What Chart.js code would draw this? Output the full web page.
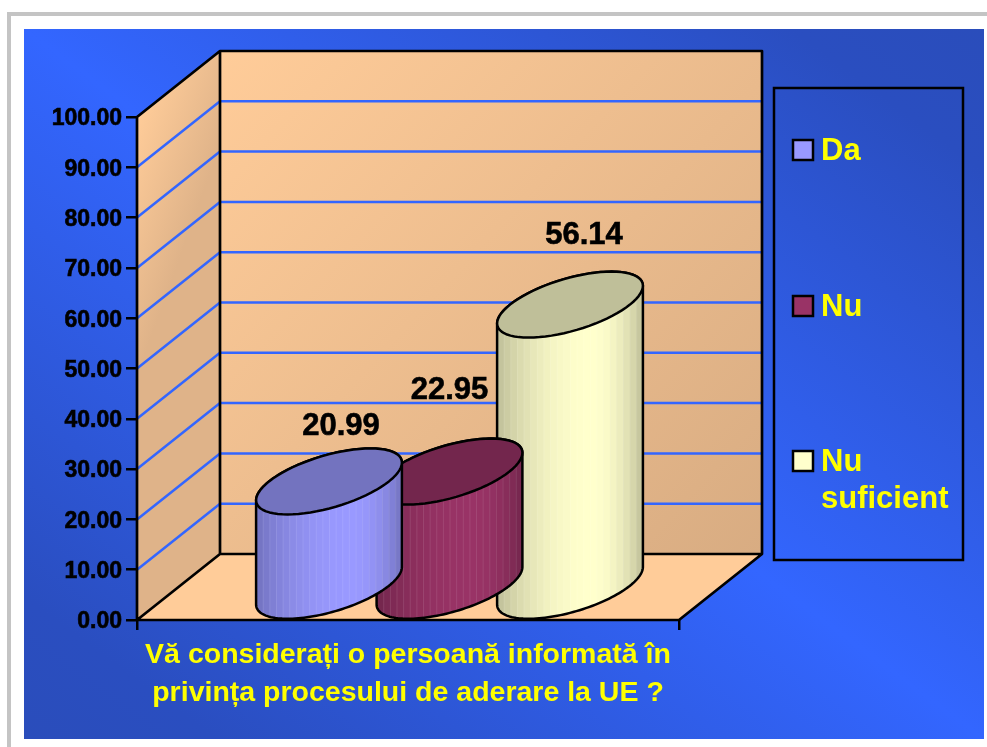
<!DOCTYPE html>
<html>
<head>
<meta charset="utf-8">
<title>Informare UE</title>
<script src="https://cdn.jsdelivr.net/npm/chart.js@4/dist/chart.umd.min.js"></script>
<style>
    html, body { margin: 0; padding: 0; background: #fff; overflow: hidden; }
    #frame { position: absolute; left: 7px; top: 12px; width: 990px; height: 750px; border: 4px solid #c4c4c4; }
    #slide { position: absolute; left: 24px; top: 29px; width: 960px; height: 710px;
        background: linear-gradient(to top right, #2a4dbb 0%, #2a4ec0 10%, #3366ff 50%, #2a4ec0 90%, #2a4dbb 100%); }
    #chart { position: absolute; left: 0; top: 0; }
</style>
</head>
<body>
<div id="frame"></div>
<div id="slide"></div>
<canvas id="chart" width="987" height="747"></canvas>
<script>
// data
const categories = ['Vă considerați o persoană informată în privința procesului de aderare la UE ?']
const axisTitleLines = ['Vă considerați o persoană informată în', 'privința procesului de aderare la UE ?']
const seriesNames = ['Da', 'Nu', 'Nu suficient']
const seriesValues = [20.99, 22.95, 56.14]

// colors
const barColors = ['#9999ff', '#993366', '#ffffcc']
const yellow = '#ffff00'
const gridBlue = '#3366ff'
const wallLight = '#ffcc99'
const wallDark = '#d8ac82'

// 3d look: how far the back wall is pushed from the front plane
const depth = { x: 83, y: -66 }
const fontFamily = '"Liberation Sans", Arial, sans-serif'

// data labels are not placed the same over each bar in the original
const labelShiftX = [12, 0, 14]
const labelShiftY = [-55, -81, -69]

Chart.defaults.font.family = fontFamily
Chart.defaults.animation = false


function shade(hex, f) {
    const n = parseInt(hex.slice(1), 16)
    const r = Math.round(((n >> 16) & 255) * f)
    const g = Math.round(((n >> 8) & 255) * f)
    const b = Math.round((n & 255) * f)
    return `rgb(${r},${g},${b})`
}

// walls, floor and grid lines, all hung on the y scale
const wallsPlugin = {
    id: 'walls',
    beforeDatasetsDraw(chart) {
        const { ctx, chartArea, scales } = chart
        const { left, right, top, bottom } = chartArea
        const dx = depth.x
        const dy = depth.y

        ctx.save()

        // side wall
        let grad = ctx.createLinearGradient(left, top, left + dx, top + 30)
        grad.addColorStop(0, wallLight)
        grad.addColorStop(1, '#dfb389')
        ctx.fillStyle = grad
        ctx.beginPath()
        ctx.moveTo(left, bottom)
        ctx.lineTo(left, top)
        ctx.lineTo(left + dx, top + dy)
        ctx.lineTo(left + dx, bottom + dy)
        ctx.closePath()
        ctx.fill()

        // back wall
        grad = ctx.createLinearGradient(left + dx, top + dy, right + dx, bottom + dy)
        grad.addColorStop(0, wallLight)
        grad.addColorStop(1, wallDark)
        ctx.fillStyle = grad
        ctx.fillRect(left + dx, top + dy, right - left, bottom - top)

        // floor
        ctx.fillStyle = wallLight
        ctx.beginPath()
        ctx.moveTo(left, bottom)
        ctx.lineTo(right, bottom)
        ctx.lineTo(right + dx, bottom + dy)
        ctx.lineTo(left + dx, bottom + dy)
        ctx.closePath()
        ctx.fill()

        // grid lines
        ctx.strokeStyle = gridBlue
        ctx.lineWidth = 2.5
        scales.y.ticks.forEach(t => {
            if (t.value === 0 || t.value === 100) return
            const y = scales.y.getPixelForValue(t.value)
            ctx.beginPath()
            ctx.moveTo(left, y)
            ctx.lineTo(left + dx, y + dy)
            ctx.lineTo(right + dx, y + dy)
            ctx.stroke()
        })

        // outlines
        ctx.strokeStyle = '#000'
        ctx.lineWidth = 2.7
        ctx.lineJoin = 'round'
        ctx.beginPath()
        ctx.moveTo(left, bottom)
        ctx.lineTo(left, top)
        ctx.lineTo(left + dx, top + dy)
        ctx.lineTo(right + dx, top + dy)
        ctx.lineTo(right + dx, bottom + dy)
        ctx.lineTo(right, bottom)
        ctx.lineTo(left, bottom)
        ctx.lineTo(left + dx, bottom + dy)
        ctx.lineTo(right + dx, bottom + dy)
        ctx.moveTo(left + dx, top + dy)
        ctx.lineTo(left + dx, bottom + dy)
        ctx.stroke()

        ctx.restore()
    }
}

// the bars are drawn as cylinders standing half way into the floor
function ellipsePath(ctx, cx, cy, rx, from, to) {
    const n = 72
    for (let i = 0; i <= n; i++) {
        const t = from + (to - from) * i / n
        const x = cx + Math.cos(t) * rx + Math.sin(t) * depth.x / 2
        const y = cy + Math.sin(t) * depth.y / 2
        if (i === 0 && to - from > 6) ctx.moveTo(x, y)
        else ctx.lineTo(x, y)
    }
}

function drawCylinder(ctx, bar, color) {
    const halfW = bar.width / 2
    const dxHalf = depth.x / 2
    const rx = Math.sqrt(halfW * halfW - dxHalf * dxHalf)
    const cx = bar.x + depth.x / 2
    const topY = bar.y + depth.y / 2
    const baseY = bar.base + depth.y / 2
    const edge = Math.atan2(dxHalf, rx) // angle of the rightmost point of the ellipse

    const body = new Path2D()
    ellipsePath(body, cx, topY, rx, edge, edge + Math.PI)
    ellipsePath(body, cx, baseY, rx, edge + Math.PI, edge + Math.PI * 2)
    body.closePath()

    ctx.save()
    ctx.clip(body)
    const bands = 22
    const bandW = bar.width / bands
    const x0 = cx - halfW
    for (let i = 0; i < bands; i++) {
        const u = (i + 0.5) / bands
        const d = u < 0.65 ? (0.65 - u) / 0.65 : (u - 0.65) / 0.35
        ctx.fillStyle = shade(color, 1 - 0.25 * d * d)
        ctx.fillRect(x0 + i * bandW, bar.y - 80, bandW + 1, bar.base - bar.y + 160)
        ctx.fillStyle = 'rgba(255,255,255,0.1)'
        ctx.fillRect(x0 + i * bandW, bar.y - 80, 1, bar.base - bar.y + 160)
    }
    ctx.restore()

    ctx.strokeStyle = '#000'
    ctx.lineWidth = 2.5
    ctx.lineJoin = 'round'
    ctx.stroke(body)

    const cap = new Path2D()
    ellipsePath(cap, cx, topY, rx, 0, Math.PI * 2)
    cap.closePath()
    ctx.fillStyle = shade(color, 0.75)
    ctx.fill(cap)
    ctx.stroke(cap)
}

const cylinderPlugin = {
    id: 'cylinders',
    beforeDatasetDraw(chart, args) {
        const bar = chart.getDatasetMeta(args.index).data[0]
        chart.ctx.save()
        drawCylinder(chart.ctx, bar, barColors[args.index])
        chart.ctx.restore()
        return false
    },
    afterDatasetsDraw(chart) {
        const ctx = chart.ctx
        ctx.save()
        ctx.font = `bold 31px ${fontFamily}`
        ctx.fillStyle = '#000'
        ctx.strokeStyle = '#000'
        ctx.lineWidth = 0.6
        ctx.textAlign = 'center'
        ctx.textBaseline = 'middle'
        chart.data.datasets.forEach((ds, i) => {
            const bar = chart.getDatasetMeta(i).data[0]
            const x = bar.x + depth.x / 2 + labelShiftX[i]
            const y = bar.y + depth.y / 2 + labelShiftY[i]
            const txt = ds.data[0].toFixed(2)
            ctx.fillText(txt, x, y)
            ctx.strokeText(txt, x, y)
        })
        ctx.restore()
    }
}

// legend box on the right, 3 rows spread over the height
const legendPlugin = {
    id: 'sideLegend',
    afterDraw(chart) {
        const ctx = chart.ctx
        const box = { x: 774, y: 88, w: 189, h: 472 }
        const rowY = [150, 306, 461]
        ctx.save()
        ctx.strokeStyle = '#000'
        ctx.lineWidth = 2.5
        ctx.strokeRect(box.x, box.y, box.w, box.h)
        ctx.font = `bold 31px ${fontFamily}`
        ctx.textBaseline = 'middle'
        ctx.textAlign = 'left'
        chart.data.datasets.forEach((ds, i) => {
            ctx.fillStyle = barColors[i]
            ctx.fillRect(793, rowY[i] - 10, 20, 20)
            ctx.strokeRect(793, rowY[i] - 10, 20, 20)
            ctx.fillStyle = yellow
            // "Nu suficient" wraps in the original
            ds.label.replace('Nu ', 'Nu\n').split('\n').forEach((line, k) => {
                ctx.fillText(line, 821, rowY[i] + 1 + k * 37)
            })
        })
        ctx.restore()
    }
}


new Chart(document.getElementById('chart'), {
    type: 'bar',
    data: {
        labels: categories,
        datasets: seriesNames.map((name, i) => ({
            label: name,
            data: [seriesValues[i]],
            backgroundColor: barColors[i]
        }))
    },
    plugins: [wallsPlugin, cylinderPlugin, legendPlugin],
    options: {
        responsive: false,
        categoryPercentage: 0.667,
        barPercentage: 1.21,
        layout: {
            padding: { left: 24, top: 117, right: 308, bottom: 8 }
        },
        plugins: {
            legend: { display: false },
            tooltip: { enabled: false }
        },
        scales: {
            x: {
                afterFit: scale => { scale.height = 119 },
                grid: { drawOnChartArea: false, color: '#000', lineWidth: 2.5, tickLength: 10, tickColor: '#000' },
                border: { display: false },
                ticks: { display: false },
                title: {
                    display: true,
                    text: axisTitleLines,
                    color: yellow,
                    font: { size: 28.5, weight: 'bold', lineHeight: 1.33 },
                    padding: { top: 0, bottom: 27 }
                }
            },
            y: {
                min: 0,
                max: 100,
                afterFit: scale => { scale.width = 113 },
                grid: { drawOnChartArea: false, color: '#000', lineWidth: 2.5, tickLength: 11, tickColor: '#000' },
                border: { display: false },
                ticks: {
                    stepSize: 10,
                    padding: 4,
                    labelOffset: 2,
                    color: '#000',
                    textStrokeColor: '#000',
                    textStrokeWidth: 0.6,
                    font: { size: 23, weight: 'bold' },
                    callback: v => v.toFixed(2)
                }
            }
        }
    }
});
</script>
</body>
</html>
